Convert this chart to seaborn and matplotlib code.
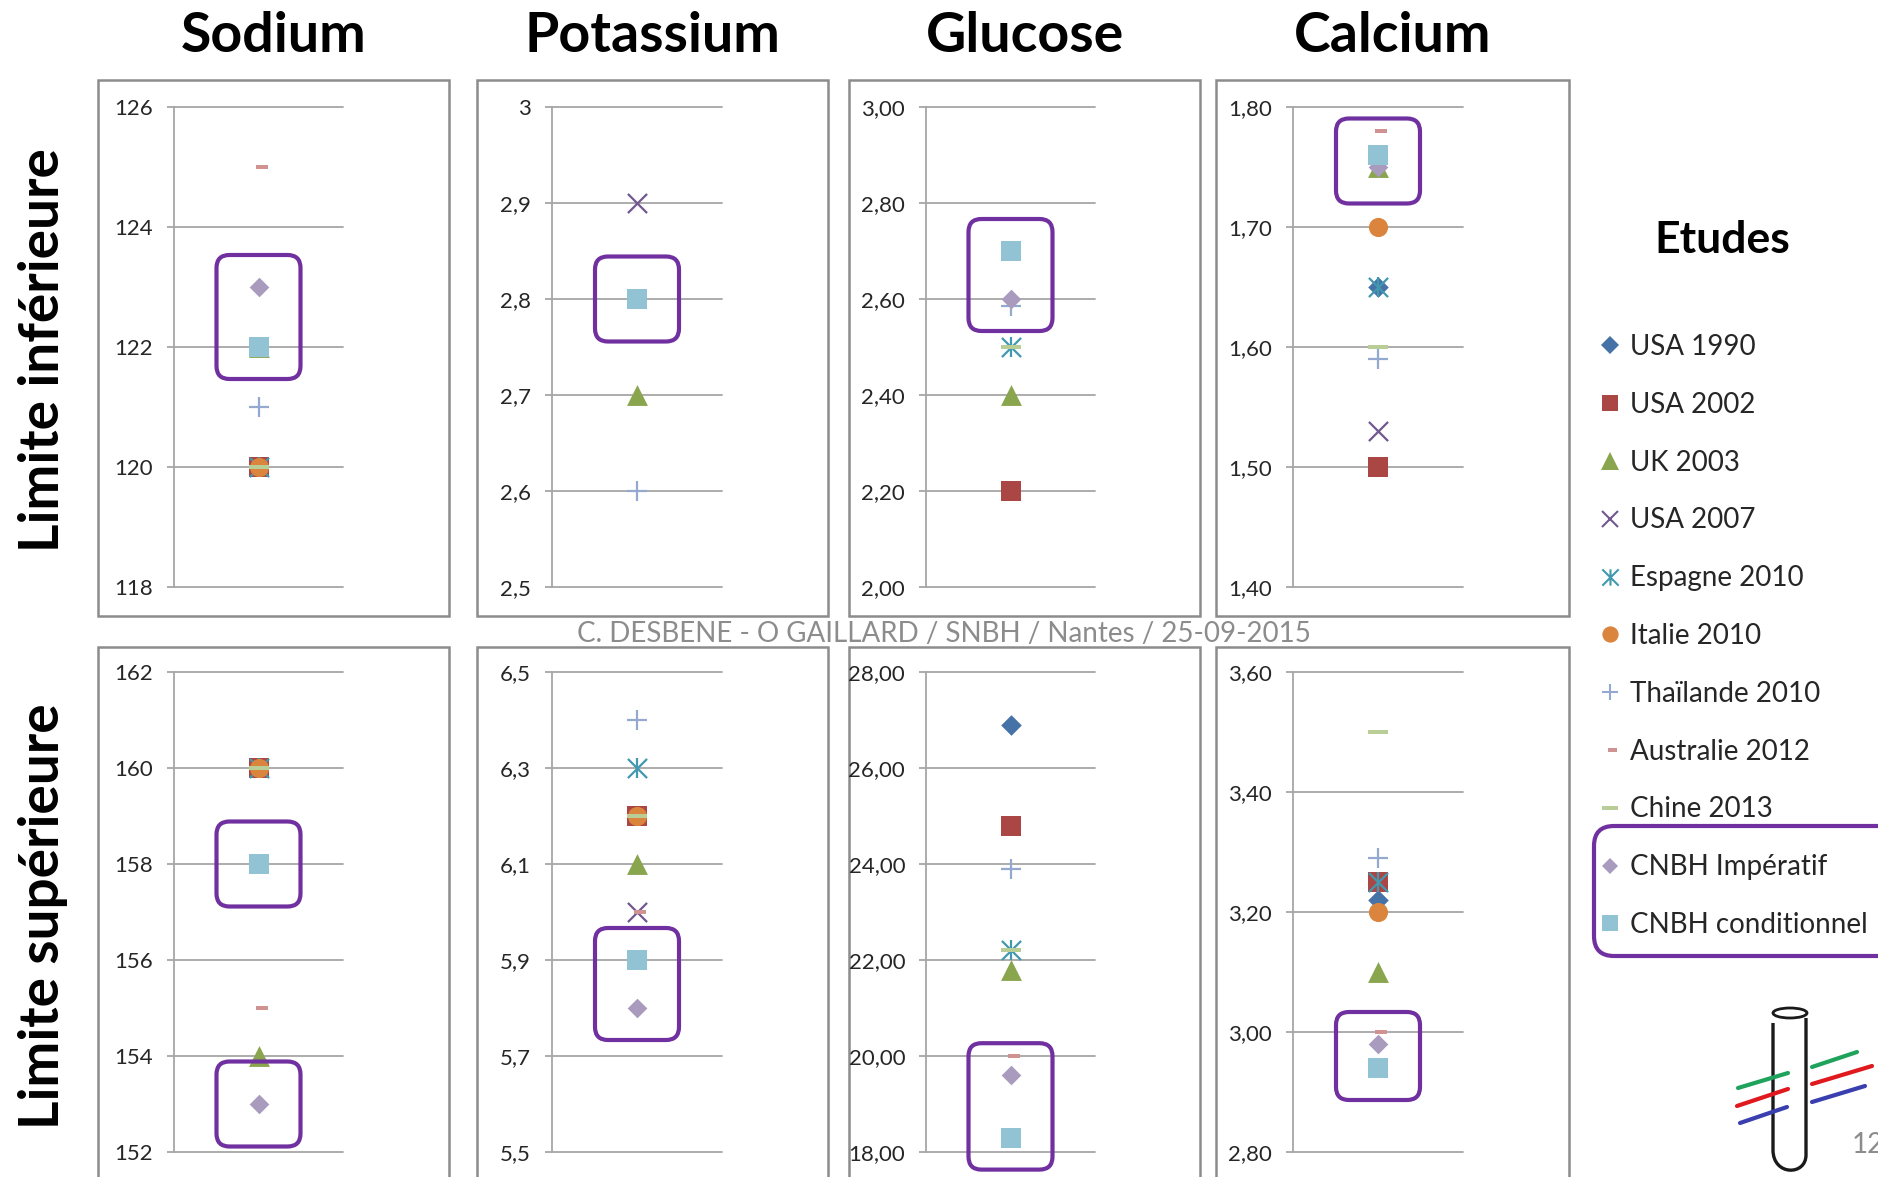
import numpy as np
import pandas as pd
import matplotlib
matplotlib.use("Agg")
import matplotlib.pyplot as plt
import seaborn as sns
from matplotlib.lines import Line2D
from matplotlib.path import Path
from matplotlib.patches import FancyBboxPatch, Rectangle, Ellipse, PathPatch
from matplotlib.transforms import IdentityTransform

sns.set_theme(style="white")
plt.rcParams["font.family"] = ["Lato", "DejaVu Sans"]

W, H = 1878, 1177
nan = np.nan

# ---------------------------------------------------------------- data
analytes = ["Sodium", "Potassium", "Glucose", "Calcium"]
row_labels = ["Limite inférieure", "Limite supérieure"]
panel_keys = ["Na_inf", "K_inf", "Glu_inf", "Ca_inf",
              "Na_sup", "K_sup", "Glu_sup", "Ca_sup"]

studies = ["USA 1990", "USA 2002", "UK 2003", "USA 2007", "Espagne 2010",
           "Italie 2010", "Thaïlande 2010", "Australie 2012", "Chine 2013",
           "CNBH Impératif", "CNBH conditionnel"]

#                   Na_inf K_inf Glu_inf Ca_inf Na_sup K_sup Glu_sup Ca_sup
usa_1990          = [nan,  nan,  nan,   1.65,  nan,  nan,  26.9,  3.22]
usa_2002          = [120,  nan,  2.20,  1.50,  160,  6.2,  24.8,  3.25]
uk_2003           = [122,  2.7,  2.40,  1.75,  154,  6.1,  21.8,  3.10]
usa_2007          = [nan,  2.9,  nan,   1.53,  nan,  6.0,  nan,   nan]
espagne_2010      = [120,  nan,  2.50,  1.65,  160,  6.3,  22.2,  3.25]
italie_2010       = [120,  nan,  nan,   1.70,  160,  6.2,  nan,   3.20]
thailande_2010    = [121,  2.6,  2.585, 1.59,  nan,  6.4,  23.9,  3.29]
australie_2012    = [125,  nan,  nan,   1.78,  155,  6.0,  20.0,  3.00]
chine_2013        = [120,  nan,  2.50,  1.60,  160,  6.2,  22.2,  3.50]
cnbh_imperatif    = [123,  2.8,  2.60,  1.75,  153,  5.8,  19.6,  2.98]
cnbh_conditionnel = [122,  2.8,  2.70,  1.76,  158,  5.9,  18.3,  2.94]

y_ticks = [
    [118, 120, 122, 124, 126],
    [2.5, 2.6, 2.7, 2.8, 2.9, 3.0],
    [2.0, 2.2, 2.4, 2.6, 2.8, 3.0],
    [1.4, 1.5, 1.6, 1.7, 1.8],
    [152, 154, 156, 158, 160, 162],
    [5.5, 5.7, 5.9, 6.1, 6.3, 6.5],
    [18, 20, 22, 24, 26, 28],
    [2.8, 3.0, 3.2, 3.4, 3.6],
]
y_tick_labels = [
    ["118", "120", "122", "124", "126"],
    ["2,5", "2,6", "2,7", "2,8", "2,9", "3"],
    ["2,00", "2,20", "2,40", "2,60", "2,80", "3,00"],
    ["1,40", "1,50", "1,60", "1,70", "1,80"],
    ["152", "154", "156", "158", "160", "162"],
    ["5,5", "5,7", "5,9", "6,1", "6,3", "6,5"],
    ["18,00", "20,00", "22,00", "24,00", "26,00", "28,00"],
    ["2,80", "3,00", "3,20", "3,40", "3,60"],
]

series = dict(zip(studies, [usa_1990, usa_2002, uk_2003, usa_2007, espagne_2010,
                            italie_2010, thailande_2010, australie_2012, chine_2013,
                            cnbh_imperatif, cnbh_conditionnel]))

records = [(key, study, v) for study, vals in series.items()
           for key, v in zip(panel_keys, vals)]
df = pd.DataFrame(records, columns=["panel", "etude", "valeur"]).dropna()
df["pos"] = 0.0

# ---------------------------------------------------------------- styles
short_dash = [(-0.3, -0.28), (1.0, -0.28), (1.0, 0.28), (-0.3, 0.28)]
long_dash = [(-1.0, -0.26), (1.0, -0.26), (1.0, 0.26), (-1.0, 0.26)]
asterisk = Path([(-1, -1), (1, 1), (-1, 1), (1, -1), (0, -1), (0, 1)],
                [Path.MOVETO, Path.LINETO, Path.MOVETO, Path.LINETO,
                 Path.MOVETO, Path.LINETO])

study_styles = {
    "USA 1990":          dict(markers=["D"], color="#4572A7", s=110, line=False),
    "USA 2002":          dict(markers=["s"], color="#AA4643", s=196, line=False),
    "UK 2003":           dict(markers=["^"], color="#89A54E", s=225, line=False),
    "USA 2007":          dict(markers=["x"], color="#71588F", s=190, line=True),
    "Espagne 2010":      dict(markers=["x", "|"], color="#4198AF", s=190, line=True),
    "Italie 2010":       dict(markers=["o"], color="#DB843D", s=190, line=False),
    "Thaïlande 2010":    dict(markers=["+"], color="#93A9CF", s=190, line=True),
    "Australie 2012":    dict(markers=[short_dash], color="#D19392", s=150, line=False),
    "Chine 2013":        dict(markers=[long_dash], color="#B9CD96", s=188, line=False),
    "CNBH Impératif":    dict(markers=["D"], color="#A99BBD", s=100, line=False),
    "CNBH conditionnel": dict(markers=["s"], color="#91C3D5", s=196, line=False),
}

grid_grey = "#A6A6A6"
frame_grey = "#8C8C8C"
box_purple = "#7030A0"
text_dark = "#262626"

# ---------------------------------------------------------------- layout (pixels)
axes_x_px = [(174, 343), (552, 722), (926, 1095), (1293, 1463)]
axes_y_px = [(107, 587), (672, 1152)]
frame_x_px = [(98, 449), (477, 828), (849, 1200), (1216, 1569)]
frame_y_px = [(80, 616), (647, 1195)]


def disp(x, y):
    """Image pixel (origin top-left) -> display coordinates."""
    return x, H - y


fig = plt.figure(figsize=(W / 100, H / 100), dpi=100)
fig.patch.set_facecolor("white")
ident = IdentityTransform()

# panel frames
for r in range(2):
    for c in range(4):
        x0, x1 = frame_x_px[c]
        y0, y1 = frame_y_px[r]
        fig.add_artist(Rectangle(disp(x0, y1), x1 - x0, y1 - y0, transform=ident,
                                 fill=False, ec=frame_grey, lw=1.8, zorder=0))

highlight = ["CNBH Impératif", "CNBH conditionnel"]
separate_boxes = {"Na_sup"}
box_pad_px = 32
box_min_h_px = 85
box_half_w_px = 42

for i, key in enumerate(panel_keys):
    r, c = divmod(i, 4)
    x0, x1 = axes_x_px[c]
    y0, y1 = axes_y_px[r]
    ax = fig.add_axes([x0 / W, 1 - y1 / H, (x1 - x0) / W, (y1 - y0) / H])
    ax.set_facecolor("none")

    sub = df[df["panel"] == key]
    for study in studies:
        pts = sub[sub["etude"] == study]
        if pts.empty:
            continue
        st = study_styles[study]
        for m in st["markers"]:
            if st["line"]:
                sns.scatterplot(data=pts, x="pos", y="valeur", ax=ax, marker=m,
                                color=st["color"], s=st["s"], linewidth=1.6,
                                clip_on=False, zorder=3)
            else:
                sns.scatterplot(data=pts, x="pos", y="valeur", ax=ax, marker=m,
                                color=st["color"], s=st["s"], linewidth=0,
                                clip_on=False, zorder=3)

    ticks = y_ticks[i]
    ax.set_xlim(-0.5, 0.5)
    ax.set_ylim(ticks[0], ticks[-1])
    ax.set_yticks(ticks)
    ax.set_yticklabels(y_tick_labels[i])
    ax.set_xticks([])
    ax.set_xlabel("")
    ax.set_ylabel("")
    ax.yaxis.grid(True, color=grid_grey, lw=1.3)
    ax.xaxis.grid(False)
    for side in ["top", "right", "bottom"]:
        ax.spines[side].set_visible(False)
    ax.spines["left"].set_color(grid_grey)
    ax.spines["left"].set_linewidth(1.3)
    ax.tick_params(axis="y", direction="out", length=5, width=1.3, color=grid_grey,
                   pad=10, labelsize=16, labelcolor=text_dark, left=True)
    for gl in ax.get_ygridlines():
        gl.set_clip_on(False)

    # purple highlight around the CNBH values
    vals = {s: series[s][i] for s in highlight}
    groups = [[s] for s in highlight] if key in separate_boxes else [highlight]
    for g in groups:
        ys = [ax.transData.transform((0, vals[s]))[1] for s in g]
        xc = ax.transData.transform((0, 0))[0]
        mid = (min(ys) + max(ys)) / 2
        h = max(max(ys) - min(ys) + 2 * box_pad_px, box_min_h_px)
        fig.add_artist(FancyBboxPatch((xc - box_half_w_px, mid - h / 2),
                                      2 * box_half_w_px, h,
                                      boxstyle="round,pad=0,rounding_size=13",
                                      transform=ident, fill=False, ec=box_purple,
                                      lw=3.0, zorder=6))

# column titles
for c, name in enumerate(analytes):
    xc = sum(frame_x_px[c]) / 2
    fig.text(xc / W, 1 - 36 / H, name, fontsize=40, fontweight="bold",
             ha="center", va="center", color="black")

# row titles
for r, (label, yc) in enumerate(zip(row_labels, [350, 916])):
    fig.text(43 / W, 1 - yc / H, label, fontsize=39.5, fontweight="bold",
             rotation=90, ha="center", va="center", color="black")

# footer
fig.text(944 / W, 1 - 634 / H, "C. DESBENE - O GAILLARD / SNBH / Nantes / 25-09-2015",
         fontsize=20, color="#8C8C8C", ha="center", va="center")

# legend
fig.text(1722 / W, 1 - 240 / H, "Etudes", fontsize=32, fontweight="bold",
         ha="center", va="center", color="black")
handles = []
for study in studies:
    st = study_styles[study]
    m = asterisk if study == "Espagne 2010" else st["markers"][0]
    ms = np.sqrt(st["s"]) * 0.85
    if st["line"]:
        handles.append(Line2D([], [], linestyle="none", marker=m, markersize=ms,
                              markerfacecolor="none", markeredgecolor=st["color"],
                              markeredgewidth=1.5))
    else:
        handles.append(Line2D([], [], linestyle="none", marker=m, markersize=ms,
                              markerfacecolor=st["color"], markeredgewidth=0))
leg = fig.legend(handles, studies, loc="upper left",
                 bbox_to_anchor=(1597 / W, 1 - 334 / H), frameon=False,
                 fontsize=20, handlelength=0.9, handletextpad=0.3,
                 labelspacing=1.145, borderpad=0, borderaxespad=0)
for t in leg.get_texts():
    t.set_color(text_dark)
fig.add_artist(FancyBboxPatch(disp(1594, 956), 330, 130,
                              boxstyle="round,pad=0,rounding_size=20",
                              transform=ident, fill=False, ec=box_purple,
                              lw=3.0, zorder=6))

# society logo (test tube with coloured streaks) and page number
tube = Path([disp(1773, 1023), disp(1773, 1150),
             disp(1773, 1176), disp(1806, 1176), disp(1806, 1155),
             disp(1806, 1018)],
            [Path.MOVETO, Path.LINETO, Path.CURVE4, Path.CURVE4, Path.CURVE4, Path.LINETO])
fig.add_artist(PathPatch(tube, transform=ident, fill=False, ec="#1A1A1A", lw=2.4))
fig.add_artist(Ellipse(disp(1790, 1013), 34, 10, transform=ident, fill=False,
                       ec="#1A1A1A", lw=2.0))
streaks = [
    ("#1FA35C", [(1738, 1088), (1788, 1073)], [(1812, 1067), (1857, 1052)]),
    ("#E0191E", [(1737, 1106), (1788, 1089)], [(1812, 1084), (1872, 1066)]),
    ("#3A3FB0", [(1740, 1123), (1787, 1107)], [(1812, 1102), (1865, 1086)]),
]
for col, left, right in streaks:
    for seg in (left, right):
        xs = [p[0] for p in seg]
        ys = [H - p[1] for p in seg]
        fig.add_artist(Line2D(xs, ys, transform=ident, color=col, lw=3.0,
                              solid_capstyle="round"))
fig.text(1852 / W, 1 - 1145 / H, "12", fontsize=20, color="#8C8C8C",
         ha="left", va="center")

fig.savefig("out.png", dpi=100, facecolor="white")
